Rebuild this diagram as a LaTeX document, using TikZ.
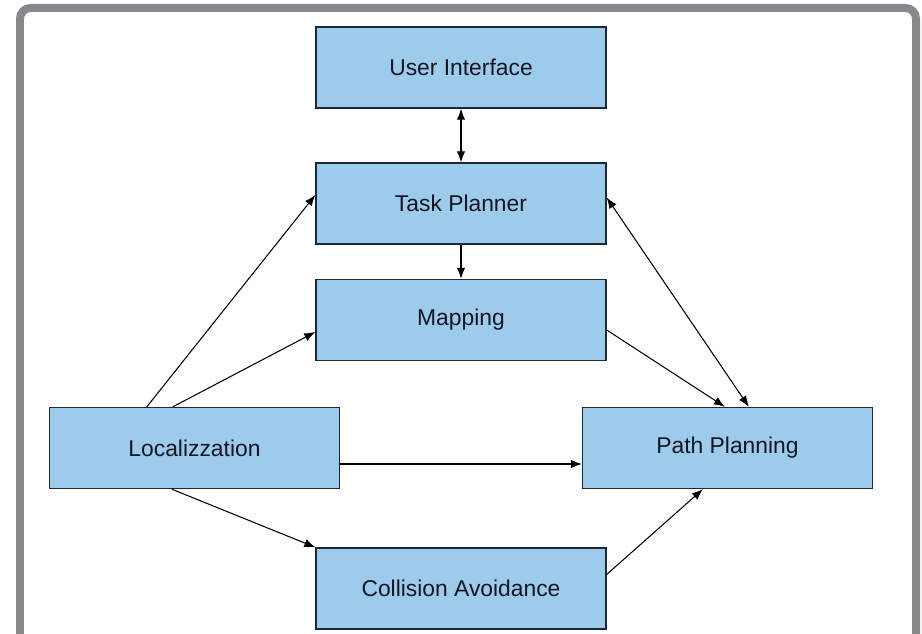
\documentclass[tikz,border=0pt]{standalone}
\usepackage{fontspec}
\setmainfont{Liberation Sans}
\usetikzlibrary{calc}
\usetikzlibrary{arrows.meta}
\definecolor{frame-gray}{RGB}{135, 135, 140}
\definecolor{box-blue}{RGB}{157, 203, 236}
\definecolor{box-edge}{RGB}{30, 40, 60}
\definecolor{text-dark}{RGB}{20, 22, 35}
\begin{document}
\begin{tikzpicture}[x=0.02cm, y=-0.02cm,
    block/.style={draw=box-edge, fill=box-blue, line width=0.8pt, text=text-dark,
        minimum width=5.8cm, minimum height=1.62cm, inner sep=0pt,
        font=\fontsize{13}{15}\selectfont},
    link/.style={line width=0.6pt, -{Latex[length=2.2mm, width=1.7mm]}},
    twolink/.style={line width=0.6pt, {Latex[length=2.2mm, width=1.7mm]}-{Latex[length=2.2mm, width=1.7mm]}}]
\useasboundingbox (0,0) rectangle (922,634);
\draw[frame-gray, line width=0.16cm, rounded corners=6] (20,8) rectangle (916,650);
\node[block] (ui) at (461,67.5) {User Interface};
\node[block] (tp) at (461,203.5) {Task Planner};
\node[block] (map) at (461,320) {Mapping};
\node[block] (loc) at (194.5,448) {Localizzation};
\node[block] (pp) at (727.5,448) {Path Planning};
\node[block] (ca) at (461,588.5) {Collision Avoidance};
\draw[twolink] (ui.south) -- (tp.north);
\draw[link] (tp.south) -- (map.north);
\draw[link] ($(loc.north west)+(98,0)$) -- ($(tp.west)+(0,-8.5)$);
\draw[link] ($(loc.north west)+(124,0)$) -- ($(map.west)+(0,12)$);
\draw[link] ($(loc.east)+(0,16)$) -- ($(pp.west)+(0,16)$);
\draw[link] ($(loc.south west)+(123,0)$) -- (ca.north west);
\draw[link] ($(map.east)+(0,10)$) -- ($(pp.north west)+(143,0)$);
\draw[twolink] ($(tp.east)+(0,-6)$) -- ($(pp.north west)+(167,0)$);
\draw[link] ($(ca.east)+(0,-14)$) -- ($(pp.south west)+(121,0)$);
\end{tikzpicture}
\end{document}
